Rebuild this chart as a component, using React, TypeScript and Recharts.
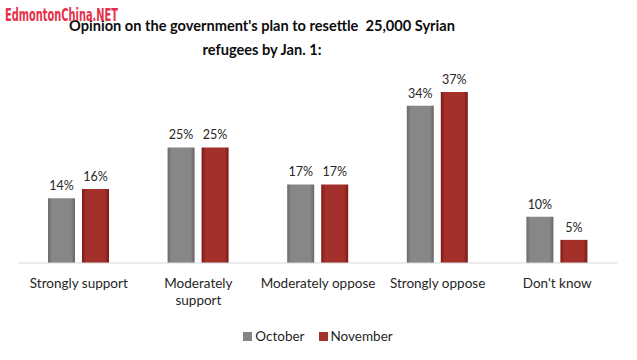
import { BarChart, Bar, XAxis, YAxis, Legend, LabelList } from "recharts";

const categories = [
  "Strongly support",
  "Moderately\nsupport",
  "Moderately oppose",
  "Strongly oppose",
  "Don't know",
];
const october = [14, 25, 17, 34, 10];
const november = [16, 25, 17, 37, 5];
const seriesNames = ["October", "November"];
const seriesColors = ["#858585", "#a3302a"];

const data = categories.map((name, i) => ({
  name,
  October: october[i],
  November: november[i],
}));

const FONT = "Lato, 'Open Sans', sans-serif";

function CategoryTick(props: any) {
  const { x, y, payload } = props;
  const lines = String(payload.value).split("\n");
  return (
    <text x={x} y={y} textAnchor="middle" fill="#262626" fontSize={13.5} fontFamily={FONT}>
      {lines.map((l, i) => (
        <tspan key={i} x={x} dy={i === 0 ? 17 : 17}>
          {l}
        </tspan>
      ))}
    </text>
  );
}

function LegendContent() {
  return (
    <div style={{ display: "flex", justifyContent: "center", gap: 14, fontFamily: FONT, fontSize: 13.5, color: "#262626" }}>
      {seriesNames.map((n, i) => (
        <span key={n} style={{ display: "flex", alignItems: "center", gap: 3 }}>
          <span style={{ display: "inline-block", width: 9, height: 9, background: seriesColors[i] }} />
          {n}
        </span>
      ))}
    </div>
  );
}

export default function App() {
  return (
    <div style={{ position: "absolute", left: 0, top: 0, width: 637, height: 360, background: "#fff" }}>
      <svg width={637} height={360} style={{ position: "absolute", left: 0, top: 0 }}>
        <text
          x={262}
          y={31}
          textAnchor="middle"
          fontFamily={FONT}
          fontWeight="bold"
          fontSize={14.6}
          fill="#0d0d0d"
          style={{ whiteSpace: "pre" }}
        >
          {"Opinion on the government's plan to resettle  25,000 Syrian"}
        </text>
        <text
          x={262}
          y={55}
          textAnchor="middle"
          fontFamily={FONT}
          fontWeight="bold"
          fontSize={14.6}
          fill="#0d0d0d"
        >
          refugees by Jan. 1:
        </text>
      </svg>
      <BarChart
        width={637}
        height={360}
        data={data}
        margin={{ top: 78, right: 20, left: 19, bottom: 0 }}
        barSize={27}
        barGap={7}
      >
        <defs>
          <linearGradient id="gGray" x1="0" y1="0" x2="1" y2="0">
            <stop offset="0%" stopColor="#6b6b6b" />
            <stop offset="15%" stopColor="#878787" />
            <stop offset="85%" stopColor="#878787" />
            <stop offset="100%" stopColor="#666666" />
          </linearGradient>
          <linearGradient id="gRed" x1="0" y1="0" x2="1" y2="0">
            <stop offset="0%" stopColor="#7e1a16" />
            <stop offset="15%" stopColor="#a3302a" />
            <stop offset="85%" stopColor="#a3302a" />
            <stop offset="100%" stopColor="#7a1814" />
          </linearGradient>
        </defs>
        <XAxis
          dataKey="name"
          height={65}
          axisLine={{ stroke: "#d9d9d9" }}
          tickLine={false}
          interval={0}
          tick={<CategoryTick />}
        />
        <YAxis hide domain={[0, 40]} />
        <Legend verticalAlign="bottom" height={32} content={<LegendContent />} />
        <Bar dataKey="October" fill="url(#gGray)" isAnimationActive={false}>
          <LabelList
            dataKey="October"
            position="top"
            offset={8}
            formatter={(v: any) => `${v}%`}
            style={{ fill: "#262626", fontSize: 12.5, fontFamily: FONT }}
          />
        </Bar>
        <Bar dataKey="November" fill="url(#gRed)" isAnimationActive={false}>
          <LabelList
            dataKey="November"
            position="top"
            offset={8}
            formatter={(v: any) => `${v}%`}
            style={{ fill: "#262626", fontSize: 12.5, fontFamily: FONT }}
          />
        </Bar>
      </BarChart>
      <svg width={130} height={30} style={{ position: "absolute", left: 0, top: 0 }}>
        <text
          x={5}
          y={21}
          textLength={113}
          lengthAdjust="spacingAndGlyphs"
          fontFamily="'DejaVu Sans Condensed', 'DejaVu Sans', sans-serif"
          fontWeight="bold"
          fontSize={18}
          fill="#e5304a"
        >
          EdmontonChina.NET
        </text>
      </svg>
    </div>
  );
}
